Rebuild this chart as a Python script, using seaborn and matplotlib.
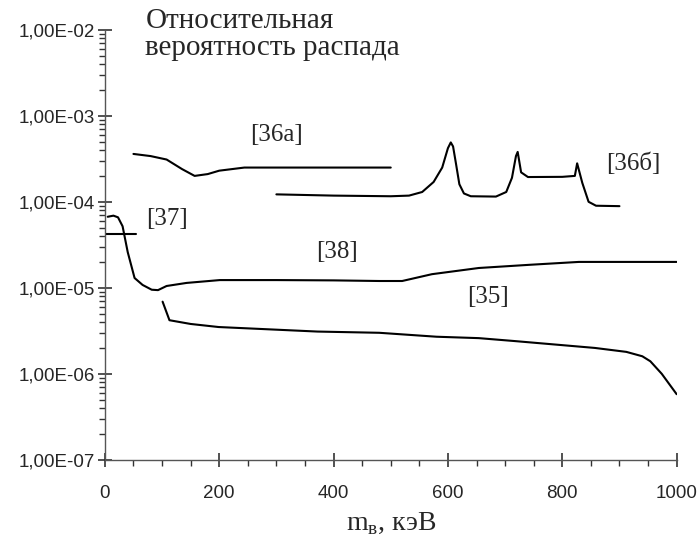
import numpy as np
import pandas as pd
import matplotlib
matplotlib.use("Agg")
import matplotlib.pyplot as plt
import matplotlib.ticker as mticker
import seaborn as sns

# ── Data ─────────────────────────────────────────────────────────────────────
x_36a = [50, 80, 108, 135, 157, 180, 200, 244, 300, 400, 500]
y_36a = [3.6e-4, 3.4e-4, 3.1e-4, 2.4e-4, 2.0e-4, 2.1e-4, 2.3e-4, 2.5e-4, 2.5e-4, 2.5e-4, 2.5e-4]

x_36b = [300, 400, 500, 532, 555, 575, 590, 600, 605, 609, 614, 620, 628, 640, 684,
         702, 712, 719, 722, 728, 740, 800, 822, 826, 835, 846, 859, 900]
y_36b = [1.22e-4, 1.18e-4, 1.16e-4, 1.18e-4, 1.3e-4, 1.7e-4, 2.5e-4, 4.2e-4, 4.9e-4,
         4.4e-4, 2.8e-4, 1.6e-4, 1.25e-4, 1.16e-4, 1.15e-4,
         1.3e-4, 1.9e-4, 3.4e-4, 3.8e-4, 2.2e-4, 1.94e-4, 1.95e-4, 2.0e-4, 2.8e-4,
         1.66e-4, 1.0e-4, 9.0e-5, 8.9e-5]

x_37 = [0, 55]
y_37 = [4.2e-5, 4.2e-5]

x_38 = [5, 15, 23, 31, 40, 52, 66, 82, 93, 108, 143, 201, 300, 400, 480, 520, 572,
        654, 742, 829, 1000]
y_38 = [6.7e-5, 6.9e-5, 6.6e-5, 5.2e-5, 2.6e-5, 1.3e-5, 1.08e-5, 9.5e-6, 9.4e-6,
        1.05e-5, 1.14e-5, 1.23e-5, 1.23e-5, 1.22e-5, 1.2e-5, 1.2e-5, 1.44e-5,
        1.7e-5, 1.85e-5, 2.0e-5, 2.0e-5]

x_35 = [101, 113, 150, 199, 372, 480, 580, 654, 718, 857, 912, 940, 954, 974, 1000]
y_35 = [6.9e-6, 4.2e-6, 3.8e-6, 3.5e-6, 3.1e-6, 3.0e-6, 2.7e-6, 2.6e-6, 2.4e-6,
        2.0e-6, 1.8e-6, 1.6e-6, 1.4e-6, 1.0e-6, 5.8e-7]

curves = [(x_36a, y_36a), (x_36b, y_36b), (x_37, y_37), (x_38, y_38), (x_35, y_35)]

ref_labels = ["[36а]", "[36б]", "[37]", "[38]", "[35]"]
ref_x      = [300, 925, 108, 406, 670]
ref_y      = [6.0e-4, 2.8e-4, 6.3e-5, 2.6e-5, 7.9e-6]

x_ticks = [0, 200, 400, 600, 800, 1000]

# ── Style ────────────────────────────────────────────────────────────────────
sns.set_style("white", {"xtick.bottom": True, "ytick.left": True})
plt.rcParams["font.family"] = ["Liberation Sans", "DejaVu Sans"]
plt.rcParams["mathtext.fontset"] = "custom"
plt.rcParams["mathtext.rm"] = "Liberation Serif"
plt.rcParams["xtick.major.size"] = 10
plt.rcParams["ytick.major.size"] = 10
plt.rcParams["xtick.minor.size"] = 4
plt.rcParams["ytick.minor.size"] = 4

fig = plt.figure(figsize=(6.99, 5.41), dpi=100)
ax = fig.add_axes([0.150, 0.150, 0.818, 0.795])

for xs, ys in curves:
    df = pd.DataFrame({"x": xs, "y": ys})
    sns.lineplot(data=df, x="x", y="y", ax=ax, color="black", linewidth=1.5,
                 estimator=None, sort=False, legend=False)

ax.set_yscale("log")
ax.set_ylim(1e-7, 1e-2)
ax.set_xlim(0, 1000)

def sci_comma(v, pos):
    return f"{v:.2E}".replace(".", ",")

ax.yaxis.set_major_locator(mticker.LogLocator(base=10, numticks=10))
ax.yaxis.set_minor_locator(mticker.LogLocator(base=10, subs=np.arange(2, 10), numticks=20))
ax.yaxis.set_major_formatter(mticker.FuncFormatter(sci_comma))
ax.yaxis.set_minor_formatter(mticker.NullFormatter())
ax.set_xticks(x_ticks)
ax.xaxis.set_minor_locator(mticker.MultipleLocator(50))

ax.tick_params(axis="both", which="both", left=True, bottom=True)
ax.tick_params(axis="both", which="major", direction="inout", length=10, width=1.1,
               color="#222222", labelsize=13.5, pad=2)
ax.tick_params(axis="both", which="minor", direction="out", length=4, width=1.0,
               color="#333333")
ax.tick_params(axis="x", which="major", pad=13)

for side in ["top", "right"]:
    ax.spines[side].set_visible(False)
for side in ["left", "bottom"]:
    ax.spines[side].set_color("#555555")
    ax.spines[side].set_linewidth(1.0)

ax.set_ylabel("")
ax.set_xlabel(r"m$_\mathrm{в}$, кэВ", fontsize=20, family="Liberation Serif", labelpad=6)

for lab, lx, ly in zip(ref_labels, ref_x, ref_y):
    ax.text(lx, ly, lab, fontsize=18, family="Liberation Serif",
            ha="center", va="center")

fig.text(0.208, 0.985, "Относительная\nвероятность распада", fontsize=21,
         family="Liberation Serif", ha="left", va="top", linespacing=1.05)

fig.savefig("out.png", dpi=100)
